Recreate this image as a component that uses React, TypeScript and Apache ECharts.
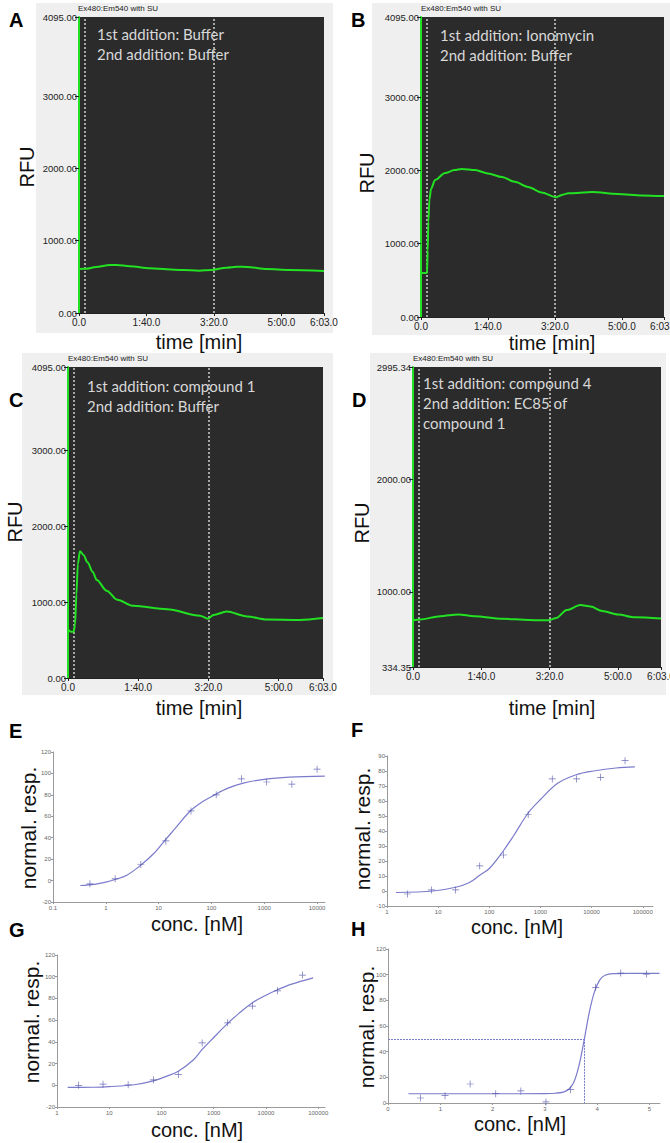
import React, { useEffect, useRef } from 'react';
import * as echarts from 'echarts';

// ---------- Ticks ----------
const TIME_TICKS = [0, 100, 200, 300, 363];
const TIME_TICK_LABELS = ['0.0', '1:40.0', '3:20.0', '5:00.0', '6:03.0'];
const RFU_TICKS = [0, 1000, 2000, 3000, 4095];
const RFU_TICK_LABELS = ['0.00', '1000.00', '2000.00', '3000.00', '4095.00'];
const RFU_TICKS_D = [334.35, 1000, 2000, 2995.34];
const RFU_TICK_LABELS_D = ['334.35', '1000.00', '2000.00', '2995.34'];
const ADDITION_TIMES = [8, 200];

// ---------- Traces (time s, RFU) ----------
const timeA = [0, 10, 25, 46, 56, 75, 105, 130, 154, 178, 197, 218, 234, 249, 278, 312, 363];
const rfuA = [608, 612, 635, 664, 664, 648, 618, 605, 595, 585, 595, 627, 641, 638, 608, 595, 581];

const timeB = [0, 5, 9, 10, 11, 12.5, 15, 21, 36, 50, 61, 81, 100, 121, 140, 160, 180, 202, 212, 220, 256, 294, 330, 363];
const rfuB = [600, 600, 600, 900, 1300, 1600, 1750, 1870, 1965, 2005, 2020, 2005, 1960, 1910, 1845, 1775, 1700, 1635, 1670, 1690, 1705, 1680, 1660, 1650];

const timeC = [0, 4, 8, 10, 12, 14, 17, 22, 28, 35, 41, 55, 70, 93, 141, 188, 199, 207, 226, 255, 283, 330, 363];
const rfuC = [640, 610, 610, 700, 1100, 1500, 1670, 1620, 1520, 1400, 1290, 1150, 1030, 950, 905, 820, 780, 830, 874, 810, 770, 765, 790];

const timeD = [0, 10, 40, 66, 90, 130, 170, 198, 210, 225, 245, 260, 277, 300, 325, 363];
const rfuD = [750, 755, 785, 800, 785, 762, 752, 748, 770, 840, 884, 870, 830, 800, 775, 765];

// ---------- Dose response ----------
const E_conc = [0.5, 1.5, 4.6, 13.7, 41, 123, 370, 1111, 3333, 10000];
const E_resp = [-3, 1.6, 15, 37, 65, 80, 95, 92, 90, 104];
const E_fitConc = [0.33, 0.6, 1, 1.5, 2.5, 4.5, 8, 13.4, 20, 39, 70, 110, 200, 400, 1000, 3000, 14000];
const E_fitResp = [-4.6, -3.5, -1.5, 1, 5, 14, 25, 38, 48, 64.5, 74, 79.5, 86, 91, 94.5, 96.5, 97.5];
const E_xTicks = [0.1, 1, 10, 100, 1000, 10000];
const E_xLabels = ['0.1', '1', '10', '100', '1000', '10000'];

const F_conc = [2.5, 7.4, 22, 65, 190, 575, 1700, 5100, 15000, 45000];
const F_resp = [-2, 0.7, 0.7, 16.7, 24, 51, 74.7, 74.7, 75.8, 86.9];
const F_fitConc = [1.5, 8, 22, 40, 65, 100, 190, 300, 575, 1000, 2200, 5000, 11000, 30000, 70000];
const F_fitResp = [-1, 0, 2.5, 5.5, 10.5, 15, 27, 37, 52, 61, 72, 77.5, 80, 82, 82.7];
const FG_xTicks = [1, 10, 100, 1000, 10000, 100000];
const FG_xLabels = ['1', '10', '100', '1000', '10000', '100000'];

const G_conc = [2.6, 7.6, 23, 70, 210, 600, 1850, 5500, 16600, 50000];
const G_resp = [0, 1, 0.5, 5, 10, 39, 57.5, 73, 87, 101.5];
const G_fitConc = [1.6, 5, 10, 30, 70, 120, 210, 400, 600, 1000, 1850, 3000, 5500, 10000, 16600, 30000, 80000];
const G_fitResp = [-2, -1.8, -1.2, 0.5, 4, 8, 13, 23, 33, 44, 57, 66, 76, 83, 88, 93, 99];

const H_conc = [0.62, 1.09, 1.57, 2.06, 2.54, 3.02, 3.49, 3.97, 4.45, 4.94];
const H_resp = [3.9, 5.7, 14.8, 7.3, 9.4, 0.8, 10.4, 90.1, 101.3, 100.5];
const H_fitConc = [0.39, 1, 2, 3, 3.2, 3.35, 3.45, 3.55, 3.65, 3.75, 3.85, 3.95, 4.05, 4.15, 4.3, 4.6, 5.19];
const H_fitResp = [7.2, 7.2, 7.2, 7.3, 7.6, 8.5, 10.5, 16, 29, 49, 71, 87, 96, 99.5, 100.8, 101, 101];
const H_xTicks = [0, 1, 2, 3, 4, 5];
const H_xLabels = ['0', '1', '2', '3', '4', '5'];
const H_EC50 = 3.76;
const H_HALF = 50;

// ---------- Styles ----------
const GREEN = '#22e022';
const DARK = '#2b2b2b';
const FRAME = '#efefef';
const CURVE = '#7b7bcc';
const MARK = '#4a4aa6';
const AXIS_FONT = 'Liberation Sans, Arial, sans-serif';
const PLUS = 'path://M4.5,0h1v4.5h4.5v1h-4.5v4.5h-1v-4.5h-4.5v-1h4.5z';

const lookup = (ticks: number[], labels: string[], v: number, tf = (x: number) => x) => {
  const i = ticks.findIndex((t) => Math.abs(tf(t) - v) < 1e-6);
  return i >= 0 ? labels[i] : '';
};

function buildOption() {
  const grids: any[] = [];
  const xAxes: any[] = [];
  const yAxes: any[] = [];
  const series: any[] = [];

  const traces = [
    { box: [79, 17, 245, 296], t: timeA, r: rfuA, yt: RFU_TICKS, yl: RFU_TICK_LABELS, min: 0, max: 4095 },
    { box: [421, 17, 243, 300], t: timeB, r: rfuB, yt: RFU_TICKS, yl: RFU_TICK_LABELS, min: 0, max: 4095 },
    { box: [68, 367, 255, 311], t: timeC, r: rfuC, yt: RFU_TICKS, yl: RFU_TICK_LABELS, min: 0, max: 4095 },
    { box: [413, 367, 248, 300], t: timeD, r: rfuD, yt: RFU_TICKS_D, yl: RFU_TICK_LABELS_D, min: 334.35, max: 2995.34 },
  ];

  traces.forEach((p, i) => {
    grids.push({
      left: p.box[0], top: p.box[1], width: p.box[2], height: p.box[3],
      show: true, backgroundColor: DARK, borderWidth: 0, outerBoundsMode: 'none', containLabel: false,
    });
    xAxes.push({
      type: 'value', gridIndex: i, min: 0, max: 363,
      axisLine: { show: true, onZero: false, lineStyle: { color: '#222', width: 1 } },
      axisTick: { show: true, customValues: TIME_TICKS, length: 3, lineStyle: { color: '#222' } },
      axisLabel: {
        customValues: TIME_TICKS, fontSize: 10, color: '#222', margin: 4, fontFamily: AXIS_FONT,
        formatter: (v: number) => lookup(TIME_TICKS, TIME_TICK_LABELS, v),
      },
      splitLine: { show: false },
    });
    yAxes.push({
      type: 'value', gridIndex: i, min: p.min, max: p.max,
      axisLine: { show: true, onZero: false, lineStyle: { color: GREEN, width: 2 } },
      axisTick: { show: true, customValues: p.yt, length: 4, lineStyle: { color: '#222' } },
      axisLabel: {
        customValues: p.yt, fontSize: 9.5, color: '#222', margin: 2, fontFamily: AXIS_FONT,
        formatter: (v: number) => lookup(p.yt, p.yl, v),
      },
      splitLine: { show: false },
    });
    series.push({
      type: 'line', xAxisIndex: i, yAxisIndex: i,
      data: p.t.map((t, k) => [t, p.r[k]]),
      showSymbol: false, symbol: 'none', smooth: 0.3, smoothMonotone: 'x',
      lineStyle: { color: GREEN, width: 2 }, z: 5,
      markLine: {
        silent: true, symbol: 'none', label: { show: false },
        lineStyle: { color: '#d0d0d0', type: [2, 2], width: 1.5 },
        data: ADDITION_TIMES.map((t) => ({ xAxis: t })),
      },
    });
  });

  const doses = [
    { box: [53, 752, 272, 150], xmin: -1, xmax: 4.15, xt: E_xTicks, xl: E_xLabels, ymin: -20, ymax: 120, yi: 20,
      c: E_conc, r: E_resp, fc: E_fitConc, fr: E_fitResp, log: true },
    { box: [387, 756, 266, 150], xmin: 0, xmax: 5.2, xt: FG_xTicks, xl: FG_xLabels, ymin: -10, ymax: 90, yi: 10,
      c: F_conc, r: F_resp, fc: F_fitConc, fr: F_fitResp, log: true },
    { box: [57, 955, 268, 152], xmin: 0, xmax: 5.13, xt: FG_xTicks, xl: FG_xLabels, ymin: -20, ymax: 120, yi: 20,
      c: G_conc, r: G_resp, fc: G_fitConc, fr: G_fitResp, log: true },
    { box: [388, 949, 272, 154], xmin: 0, xmax: 5.2, xt: H_xTicks, xl: H_xLabels, ymin: 0, ymax: 120, yi: 20,
      c: H_conc, r: H_resp, fc: H_fitConc, fr: H_fitResp, log: false },
  ];

  doses.forEach((p, j) => {
    const i = 4 + j;
    const tf = p.log ? (x: number) => Math.log10(x) : (x: number) => x;
    grids.push({
      left: p.box[0], top: p.box[1], width: p.box[2], height: p.box[3],
      show: false, outerBoundsMode: 'none', containLabel: false,
    });
    const xv = p.xt.map(tf);
    xAxes.push({
      type: 'value', gridIndex: i, min: p.xmin, max: p.xmax,
      axisLine: { show: true, onZero: false, lineStyle: { color: '#9a9a9a', width: 1 } },
      axisTick: { show: true, customValues: xv, length: 2, lineStyle: { color: '#9a9a9a' } },
      axisLabel: {
        customValues: xv, fontSize: 6, color: '#666', margin: 3, fontFamily: AXIS_FONT,
        formatter: (v: number) => lookup(p.xt, p.xl, v, tf),
      },
      splitLine: { show: false },
    });
    yAxes.push({
      type: 'value', gridIndex: i, min: p.ymin, max: p.ymax, interval: p.yi,
      axisLine: { show: true, onZero: false, lineStyle: { color: '#9a9a9a', width: 1 } },
      axisTick: { show: true, length: 2, lineStyle: { color: '#9a9a9a' } },
      axisLabel: { fontSize: 6, color: '#666', margin: 2, fontFamily: AXIS_FONT },
      splitLine: { show: false },
    });
    const line: any = {
      type: 'line', xAxisIndex: i, yAxisIndex: i,
      data: p.fc.map((c, k) => [tf(c), p.fr[k]]),
      showSymbol: false, symbol: 'none', smooth: 0.35,
      lineStyle: { color: CURVE, width: 1.2 },
    };
    if (!p.log) {
      line.markLine = {
        silent: true, symbol: 'none', label: { show: false },
        lineStyle: { color: CURVE, type: [2, 1], width: 1 },
        data: [
          [{ coord: [0, H_HALF] }, { coord: [H_EC50, H_HALF] }],
          [{ coord: [H_EC50, H_HALF] }, { coord: [H_EC50, 0] }],
        ],
      };
    }
    series.push(line);
    series.push({
      type: 'scatter', xAxisIndex: i, yAxisIndex: i,
      data: p.c.map((c, k) => [tf(c), p.r[k]]),
      symbol: PLUS, symbolSize: 7, itemStyle: { color: MARK }, z: 4,
    });
  });

  const txt = (x: number, y: number, text: string, style: any, extra: any = {}) => ({
    type: 'text', x, y, z: 20, silent: true,
    style: { text, fill: '#111', fontFamily: AXIS_FONT, ...style }, ...extra,
  });
  const letter = (x: number, y: number, t: string) =>
    txt(x, y, t, { fontSize: 20, fontWeight: 'bold', fill: '#000', verticalAlign: 'middle' });
  const axisTitle = (x: number, y: number, t: string, size = 20) =>
    txt(x, y, t, { fontSize: size, fill: '#111', align: 'center', verticalAlign: 'middle' });
  const vTitle = (x: number, y: number, t: string, size = 20) =>
    txt(x, y, t, { fontSize: size, fill: '#111', align: 'center', verticalAlign: 'middle' }, { rotation: Math.PI / 2 });
  const note = (x: number, y: number, t: string) =>
    txt(x, y, t, { fontSize: 15, fill: '#d8d8d8', fontFamily: 'Lato, sans-serif', lineHeight: 20, verticalAlign: 'top' });
  const small = (x: number, y: number) =>
    txt(x, y, 'Ex480:Em540 with SU', { fontSize: 8, fill: '#222', verticalAlign: 'middle' });

  const graphic: any[] = [
    { type: 'rect', shape: { x: 36, y: 3, width: 297, height: 330 }, style: { fill: FRAME }, z: -10, silent: true },
    { type: 'rect', shape: { x: 372, y: 3, width: 298, height: 332 }, style: { fill: FRAME }, z: -10, silent: true },
    { type: 'rect', shape: { x: 22, y: 353, width: 311, height: 342 }, style: { fill: FRAME }, z: -10, silent: true },
    { type: 'rect', shape: { x: 370, y: 353, width: 296, height: 342 }, style: { fill: FRAME }, z: -10, silent: true },
    small(78, 8), small(421, 8), small(68, 358), small(413, 358),
    note(97, 24, '1st addition: Buffer\n2nd addition: Buffer'),
    note(440, 25, '1st addition: Ionomycin\n2nd addition: Buffer'),
    note(87, 376, '1st addition: compound 1\n2nd addition: Buffer'),
    note(423, 373, '1st addition: compound 4\n2nd addition: EC85 of\ncompound 1'),
    letter(9, 20, 'A'), letter(351, 20, 'B'), letter(9, 400, 'C'), letter(352, 400, 'D'),
    letter(9, 731, 'E'), letter(351, 730, 'F'), letter(9, 930, 'G'), letter(351, 929, 'H'),
    axisTitle(199, 342, 'time [min]'), axisTitle(552, 343, 'time [min]'),
    axisTitle(199, 708, 'time [min]'), axisTitle(552, 708, 'time [min]'),
    vTitle(27, 167, 'RFU'), vTitle(367, 173, 'RFU'), vTitle(15, 522, 'RFU'), vTitle(362, 523, 'RFU'),
    axisTitle(197, 924, 'conc. [nM]'), axisTitle(517, 927, 'conc. [nM]'),
    axisTitle(197, 1130, 'conc. [nM]'), axisTitle(520, 1124, 'conc. [nM]'),
    vTitle(28, 828, 'normal. resp.', 21), vTitle(362, 829, 'normal. resp.', 21),
    vTitle(31, 1022, 'normal. resp.', 21), vTitle(366, 1027, 'normal. resp.', 21),
  ];

  return {
    animation: false,
    backgroundColor: '#ffffff',
    grid: grids,
    xAxis: xAxes,
    yAxis: yAxes,
    series,
    graphic,
  };
}

export default function App() {
  const ref = useRef<HTMLDivElement>(null);
  useEffect(() => {
    const chart = echarts.init(ref.current!, null, { renderer: 'svg' });
    chart.setOption(buildOption() as any);
    return () => chart.dispose();
  }, []);
  return (
    <div
      ref={ref}
      style={{ position: 'absolute', left: 0, top: 0, width: 670, height: 1143, background: '#fff' }}
    />
  );
}
